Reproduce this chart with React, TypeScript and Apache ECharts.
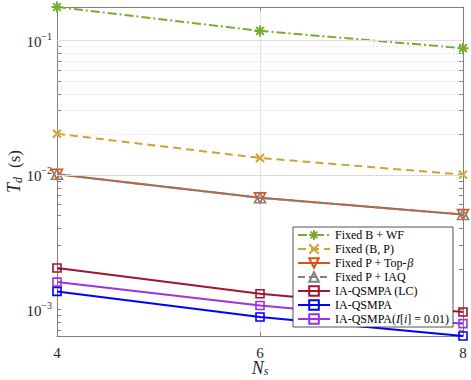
import React, { useEffect, useRef } from "react";
import * as echarts from "echarts";

const xValues = [4, 6, 8];
const seriesNames = [
  "Fixed B + WF",
  "Fixed (B, P)",
  "Fixed P + Top-β",
  "Fixed P + IAQ",
  "IA-QSMPA (LC)",
  "IA-QSMPA",
  "IA-QSMPA(I[i] = 0.01)",
];
const fixedBWF = [0.177, 0.1176, 0.0875];
const fixedBP = [0.0202, 0.01336, 0.01004];
const fixedPTopBeta = [0.0101, 0.00675, 0.00507];
const fixedPIAQ = [0.0101, 0.00675, 0.00507];
const iaQsmpaLC = [0.00203, 0.001308, 0.000955];
const iaQsmpa = [0.00136, 0.000877, 0.000634];
const iaQsmpaI = [0.001595, 0.00107, 0.000783];

const yMajorTicks = [0.001, 0.01, 0.1];
const minorMultipliers = [2, 3, 4, 5, 6, 7, 8, 9];
const decades = [0.0001, 0.001, 0.01, 0.1];

const FONT = "Liberation Serif";
const AXIS_COLOR = "#808080";
const TEXT = "#262626";

const seriesValues = [fixedBWF, fixedBP, fixedPTopBeta, fixedPIAQ, iaQsmpaLC, iaQsmpa, iaQsmpaI];
const seriesColors = ["#77AC30", "#D4A033", "#D95319", "#808080", "#A2142F", "#0000FF", "#9B33E0"];
const seriesDash: any[] = [[9, 3, 2, 3], [8, 5], "solid", [7, 4], "solid", "solid", "solid"];
const seriesSymbols = [
  "path://M5,0L5,10M0,5L10,5M1.5,1.5L8.5,8.5M1.5,8.5L8.5,1.5",
  "path://M0,0L10,10M0,10L10,0",
  "path://M0,0L10,0L5,9Z",
  "path://M5,0L10,9L0,9Z",
  "rect",
  "rect",
  "rect",
];
const seriesSymbolSizes = [11, 8, 11, 11, 8, 8, 8];

const legendLabels: Record<string, string> = {
  "Fixed P + Top-β": "Fixed P + Top-{i|β}",
  "IA-QSMPA(I[i] = 0.01)": "IA-QSMPA({i|I}[{i|i}] = 0.01)",
};

export default function App() {
  const ref = useRef<HTMLDivElement>(null);
  useEffect(() => {
    if (!ref.current) return;
    const chart = echarts.init(ref.current, null, { renderer: "svg" });
    const yMin = Math.min(...seriesValues.map((s) => Math.min(...s)));
    const yMax = Math.max(...seriesValues.map((s) => Math.max(...s)));
    const minorTicks: number[] = [];
    decades.forEach((d) =>
      minorMultipliers.forEach((m) => {
        const v = +(d * m).toPrecision(3);
        if (v > yMin && v < yMax) minorTicks.push(v);
      })
    );
    const allTicks = [...yMajorTicks, ...minorTicks];

    const dataSeries = seriesNames.map((name, k) => ({
      name,
      type: "line",
      z: 3,
      clip: false,
      data: xValues.map((x, i) => [x, seriesValues[k][i]]),
      symbol: seriesSymbols[k],
      symbolSize: seriesSymbolSizes[k],
      symbolKeepAspect: true,
      showAllSymbol: true,
      lineStyle: { color: seriesColors[k], width: 2, type: seriesDash[k] },
      itemStyle: {
        color: "rgba(255,255,255,0)",
        borderColor: seriesColors[k],
        borderWidth: k < 2 ? 2 : 1.6,
      },
      emphasis: { disabled: true },
    }));

    const gridSeries = {
      name: "grid",
      type: "line",
      z: 1,
      data: [],
      silent: true,
      markLine: {
        silent: true,
        symbol: ["none", "none"],
        label: { show: false },
        animation: false,
        data: [
          ...yMajorTicks.map((v) => ({
            yAxis: v,
            lineStyle: { color: "#dedede", width: 1, type: "solid" },
          })),
          ...minorTicks.map((v) => ({
            yAxis: v,
            lineStyle: { color: "#cfcfcf", width: 1, type: [1, 3] },
          })),
        ],
      },
    };

    const rich = {
      i: { fontFamily: FONT, fontStyle: "italic", fontSize: 12, color: "#000" },
    };

    chart.setOption({
      animation: false,
      textStyle: { fontFamily: FONT },
      grid: { left: 57, right: 8, top: 7, bottom: 44, containLabel: false, outerBoundsMode: "none" },
      legend: {
        data: seriesNames,
        orient: "vertical",
        left: 293,
        top: 227,
        padding: [2, 4, 2, 4],
        itemWidth: 32,
        itemHeight: 12,
        itemGap: 2,
        backgroundColor: "#fff",
        borderColor: "#262626",
        borderWidth: 0.8,
        textStyle: { fontFamily: FONT, fontSize: 12, color: "#000", rich },
        formatter: (name: string) => legendLabels[name] || name,
      },
      xAxis: [
        {
          type: "value",
          min: 4,
          max: 8,
          interval: 2,
          position: "bottom",
          name: "{i|N}{s|s}",
          nameLocation: "middle",
          nameGap: 23,
          nameMoveOverlap: false,
          nameTextStyle: {
            rich: {
              i: { fontFamily: FONT, fontStyle: "italic", fontSize: 18, color: TEXT },
              s: { fontFamily: FONT, fontStyle: "italic", fontSize: 12, color: TEXT, verticalAlign: "bottom", padding: [6, 0, 0, 0] },
            },
          },
          axisLine: { show: true, lineStyle: { color: AXIS_COLOR, width: 1 } },
          axisTick: { show: true, inside: true, length: 4, lineStyle: { color: AXIS_COLOR } },
          axisLabel: { fontFamily: FONT, fontSize: 15, color: TEXT, margin: 9 },
          splitLine: { show: true, lineStyle: { color: "#e3e3e3", width: 1 } },
        },
        {
          type: "value",
          min: 4,
          max: 8,
          interval: 2,
          position: "top",
          axisLine: { show: true, lineStyle: { color: AXIS_COLOR, width: 1 } },
          axisTick: { show: true, inside: true, length: 4, lineStyle: { color: AXIS_COLOR } },
          axisLabel: { show: false },
          splitLine: { show: false },
        },
      ],
      yAxis: [
        {
          type: "log",
          logBase: 10,
          min: yMin,
          max: yMax,
          position: "left",
          name: "{i|T}{s|d}{n|(s)}",
          nameLocation: "middle",
          nameRotate: 90,
          nameGap: 33,
          nameMoveOverlap: false,
          nameTextStyle: {
            rich: {
              i: { fontFamily: FONT, fontStyle: "italic", fontSize: 18, color: TEXT },
              s: { fontFamily: FONT, fontStyle: "italic", fontSize: 12, color: TEXT, verticalAlign: "bottom", padding: [8, 0, 0, 0] },
              n: { fontFamily: FONT, fontSize: 17, color: TEXT, padding: [0, 0, 0, 9] },
            },
          },
          axisLine: { show: true, lineStyle: { color: AXIS_COLOR, width: 1 } },
          axisTick: { show: true, inside: true, length: 4, customValues: allTicks, lineStyle: { color: AXIS_COLOR } },
          axisLabel: {
            customValues: yMajorTicks,
            margin: 5,
            formatter: (v: number) => `{b|10}{e|−${Math.round(-Math.log10(v))}}`,
            rich: {
              b: { fontFamily: FONT, fontSize: 15, color: TEXT, lineHeight: 18, verticalAlign: "bottom" },
              e: { fontFamily: FONT, fontSize: 10, color: TEXT, lineHeight: 11, verticalAlign: "top" },
            },
          },
          splitLine: { show: false },
        },
        {
          type: "log",
          logBase: 10,
          min: yMin,
          max: yMax,
          position: "right",
          axisLine: { show: true, lineStyle: { color: AXIS_COLOR, width: 1 } },
          axisTick: { show: true, inside: true, length: 4, customValues: allTicks, lineStyle: { color: AXIS_COLOR } },
          axisLabel: { show: false },
          splitLine: { show: false },
        },
      ],
      series: [gridSeries, ...dataSeries],
    });
    return () => chart.dispose();
  }, []);
  return <div ref={ref} style={{ width: 471, height: 380, position: "absolute", left: 0, top: 0 }} />;
}
